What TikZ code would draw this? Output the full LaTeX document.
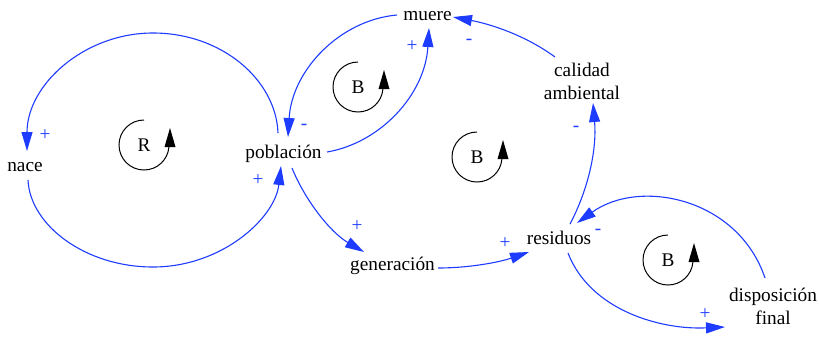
\documentclass[tikz,border=0pt]{standalone}
\usepackage{fontspec}
\setmainfont{Liberation Serif}
\newfontfamily\timesfont{Liberation Serif}
\usetikzlibrary{arrows.meta,calc}
\definecolor{cldblue}{RGB}{30,60,255}
\newcommand\loopmarker[3]{%
  \coordinate (#1) at #2;
  \node[loopletter] (#1l) at (#1) {#3};
  \draw[line width=1pt] ($(#1)+(0,-25)$) arc[start angle=270,end angle=5,radius=25];
  \fill ($(#1)+(20.5,2)$) -- ($(#1)+(31.5,2)$) -- ($(#1)+(26,-17)$) -- cycle;}
\begin{document}
\begin{tikzpicture}[x=1pt,y=-1pt,
  txt/.style={font=\timesfont\fontsize{19.3}{23}\selectfont},
  var/.style={txt, inner sep=0pt, text height=14pt, text depth=4pt},
  var2/.style={txt, inner sep=0pt, align=center},
  link/.style={draw=cldblue, line width=1.1pt, -{Triangle[length=19pt,width=11pt]}},
  pol/.style={txt, text=cldblue, inner sep=0pt},
  loopletter/.style={txt, inner sep=0pt}]
\fill[white] (0,0) rectangle (819,338);
\useasboundingbox (0,0) rectangle (819,338);
% variables
\node[var] (nace) at (25,166) {nace};
\node[var] (pob) at (283.5,153) {población};
\node[var] (muere) at (427.5,15) {muere};
\node[var2] (cal) at (582,81) {calidad\\ambiental};
\node[var] (gen) at (392.5,265) {generación};
\node[var] (res) at (559,239) {residuos};
\node[var2] (disp) at (773,306.75) {disposición\\final};
% links
\draw[link] ($(pob)+(-5.5,-20)$) .. controls (276,80) and (222,33) .. (153,33) .. controls (84,33) and (27,85) .. ($(nace)+(2,-15)$);
\draw[link] ($(nace)+(3,14)$) .. controls (30,225) and (85,267) .. (153,267) .. controls (222,267) and (275,218) .. ($(pob)+(-2.5,13)$);
\draw[link] ($(pob)+(43.5,-1)$) .. controls (380,143) and (425,95) .. ($(muere)+(1.5,13)$);
\draw[link] ($(muere)+(-30.5,0)$) .. controls (340,20) and (292,70) .. ($(pob)+(4.5,-16)$);
\draw[link] ($(cal)+(-27,-24)$) .. controls (525,35) and (490,24) .. ($(muere)+(25.5,2)$);
\draw[link] ($(res)+(11,-15)$) .. controls (588,190) and (597,150) .. ($(cal)+(11,22)$);
\draw[link] ($(pob)+(8.5,15)$) .. controls (305,200) and (330,232) .. ($(gen)+(-28.5,-13)$);
\draw[link] ($(gen)+(45.5,3)$) .. controls (470,268) and (500,262) .. ($(res)+(-30,13)$);
\draw[link] ($(disp)+(-8,-28.75)$) .. controls (738,198) and (640,178) .. ($(res)+(18,-16)$);
\draw[link] ($(res)+(9,14)$) .. controls (590,310) and (660,330) .. ($(disp)+(-48,20.25)$);
% polarities
\node[pol] (p1) at (45,135) {+};
\node[pol] (p2) at (258,180) {+};
\node[pol] (p3) at (304,127) {-};
\node[pol] (p4) at (412,46) {+};
\node[pol] (p5) at (469,42) {-};
\node[pol] (p6) at (576,129) {-};
\node[pol] (p7) at (357,226) {+};
\node[pol] (p8) at (505,243) {+};
\node[pol] (p9) at (598,232) {-};
\node[pol] (p10) at (705,314) {+};
% loop markers
\loopmarker{mR}{(144,145)}{R}
\loopmarker{mB1}{(358,87)}{B}
\loopmarker{mB2}{(477,157)}{B}
\loopmarker{mB3}{(668,260)}{B}
\end{tikzpicture}
\end{document}
